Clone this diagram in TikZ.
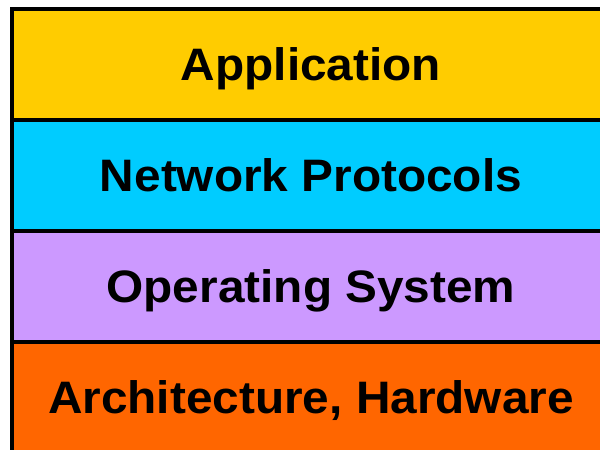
\documentclass[tikz,border=0pt]{standalone}
\usepackage{fontspec}
\setmainfont{Liberation Sans}
\definecolor{layerapp}{HTML}{FFCC00}
\definecolor{layernet}{HTML}{00CCFF}
\definecolor{layeros}{HTML}{CC99FF}
\definecolor{layerhw}{HTML}{FF6600}
\begin{document}
\begin{tikzpicture}[x=1pt,y=-1pt,
  layer/.style={draw=black,line width=4pt,minimum width=598pt,minimum height=111pt,
    inner sep=0pt,anchor=north west},
  layertext/.style={font=\fontsize{45.5}{54}\selectfont\bfseries,text=black,
    text height=32.5pt,text depth=0pt,inner sep=0pt,xscale=1.05}]
\useasboundingbox (0,0) rectangle (600,450);
\node[layer,fill=layerhw]  (hw)  at (10,339.5) {};
\node[layer,fill=layeros]  (os)  at (10,228.5) {};
\node[layer,fill=layernet] (net) at (10,117.5) {};
\node[layer,fill=layerapp] (app) at (10,6.5) {};
\node[layertext] (tapp) at (app.center) {Application};
\node[layertext] (tnet) at (net.center) {Network Protocols};
\node[layertext] (tos)  at (os.center)  {Operating System};
\node[layertext] (thw)  at (hw.center)  {Architecture, Hardware};
\end{tikzpicture}
\end{document}
